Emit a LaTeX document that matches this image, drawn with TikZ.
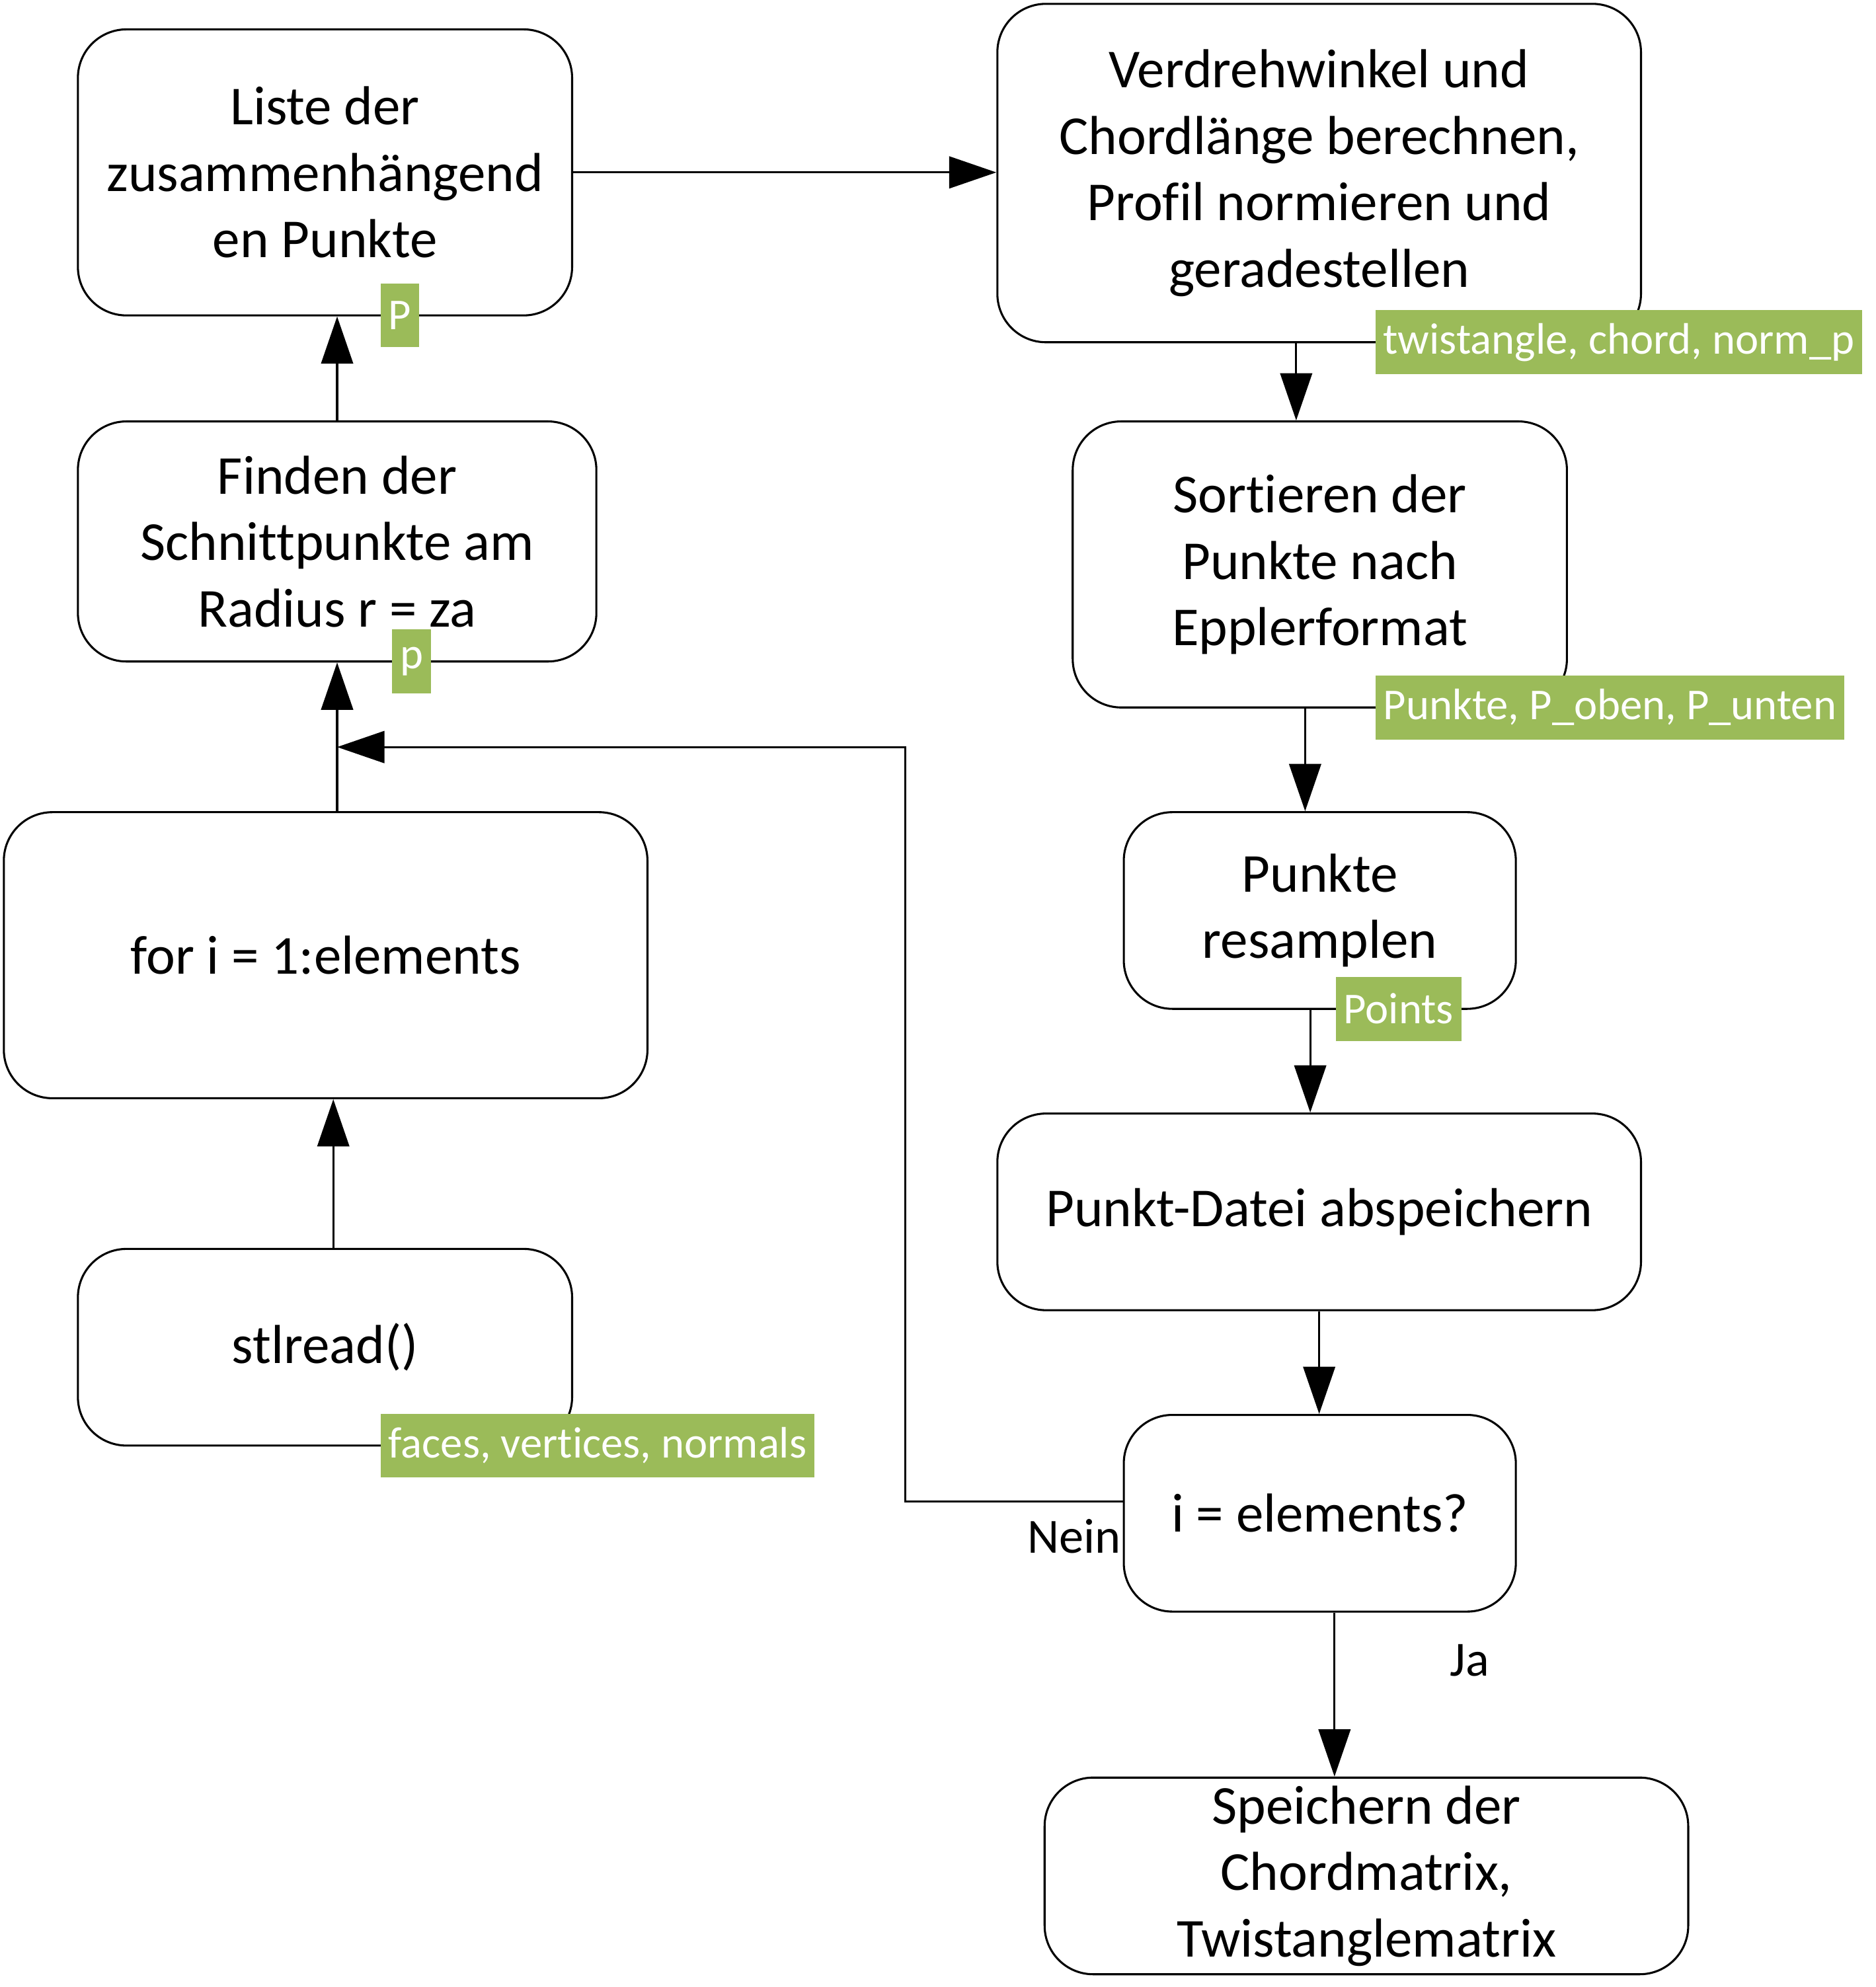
\documentclass[tikz,border=0pt]{standalone}
\usepackage{fontspec}
\setmainfont{Carlito}[Ligatures={NoCommon}]
\usetikzlibrary{arrows.meta}
\definecolor{lblgreen}{HTML}{9BBB59}
\begin{document}
\begin{tikzpicture}[x=1pt,y=-1pt,
  box/.style={draw=black, line width=1.6pt, rounded corners=38pt, inner sep=0pt,
    align=center, font=\fontsize{43}{52}\selectfont},
  lbl/.style={fill=lblgreen, text=white, inner xsep=6pt, inner ysep=0pt,
    minimum height=50pt, anchor=west, font=\fontsize{34.5}{40}\selectfont},
  arr/.style={line width=1.6pt, -{Triangle[length=37pt,width=25pt]}},
  plain/.style={font=\fontsize{38.5}{44}\selectfont}]
\useasboundingbox (0,0) rectangle (1469,1556);

% left column
\node[box, minimum width=387pt, minimum height=224pt] (b1) at (254.5,135) {Liste der\\zusammenhängend\\en Punkte};
\node[box, minimum width=406pt, minimum height=188pt] (b2) at (264,424) {Finden der\\Schnittpunkte am\\Radius r = za};
\node[box, minimum width=504pt, minimum height=224pt] (b3) at (255,748) {for i = 1:elements};
\node[box, minimum width=387pt, minimum height=154pt] (b4) at (254.5,1055) {stlread()};

% right column
\node[box, minimum width=504pt, minimum height=265pt] (b5) at (1033,135.5) {Verdrehwinkel und\\Chordlänge berechnen,\\Profil normieren und\\geradestellen};
\node[box, minimum width=387pt, minimum height=224pt] (b6) at (1033.5,442) {Sortieren der\\Punkte nach\\Epplerformat};
\node[box, minimum width=307pt, minimum height=154pt] (b7) at (1033.5,713) {Punkte\\resamplen};
\node[box, minimum width=504pt, minimum height=154pt] (b8) at (1033,949) {Punkt-Datei abspeichern};
\node[box, minimum width=307pt, minimum height=154pt] (b9) at (1033.5,1185) {i = elements?};
\node[box, minimum width=504pt, minimum height=154pt] (b10) at (1070,1469) {Speichern der\\Chordmatrix,\\Twistanglematrix};

% connectors
\draw[arr] ([xshift=9.5pt]b1.south |- b2.north) -- ([xshift=9.5pt]b1.south);
\draw[arr] ([xshift=9pt]b3.north) -- (b2.south);
\draw[arr] ([xshift=6.5pt]b4.north) -- ([xshift=6pt]b3.south);
\draw[arr] (b1.east) -- (b1.east -| b5.west);
\draw[arr] ([xshift=-18pt]b5.south) -- ([xshift=-18.5pt]b6.north);
\draw[arr] ([xshift=-11.5pt]b6.south) -- ([xshift=-11.5pt]b7.north);
\draw[arr] ([xshift=-7.5pt]b7.south) -- ([xshift=-7pt]b8.north);
\draw[arr] (b8.south) -- ([xshift=-0.5pt]b9.north);
\draw[arr] ([xshift=11.5pt]b9.south) -- ([xshift=-25pt]b10.north);

\coordinate (loopA) at (709,1176);
\coordinate (loopB) at (709,585);
\coordinate (loopC) at (264,585);
\draw[arr] (b9.west |- loopA) -- (loopA) -- (loopB) -- (loopC);

\node[plain, anchor=east, inner sep=0pt] (nein) at (878,1203) {Nein};
\node[plain, inner sep=0pt] (ja) at (1151,1300) {Ja};

% green labels
\node[lbl] (l1) at (298,247) {P};
\node[lbl] (l2) at (307,518) {p};
\node[lbl] (l3) at (298,1132) {faces, vertices, normals};
\node[lbl] (l4) at (1077,268) {twistangle, chord, norm\_p};
\node[lbl] (l5) at (1077,554) {Punkte, P\_oben, P\_unten};
\node[lbl] (l6) at (1046,790) {Points};
\end{tikzpicture}
\end{document}
